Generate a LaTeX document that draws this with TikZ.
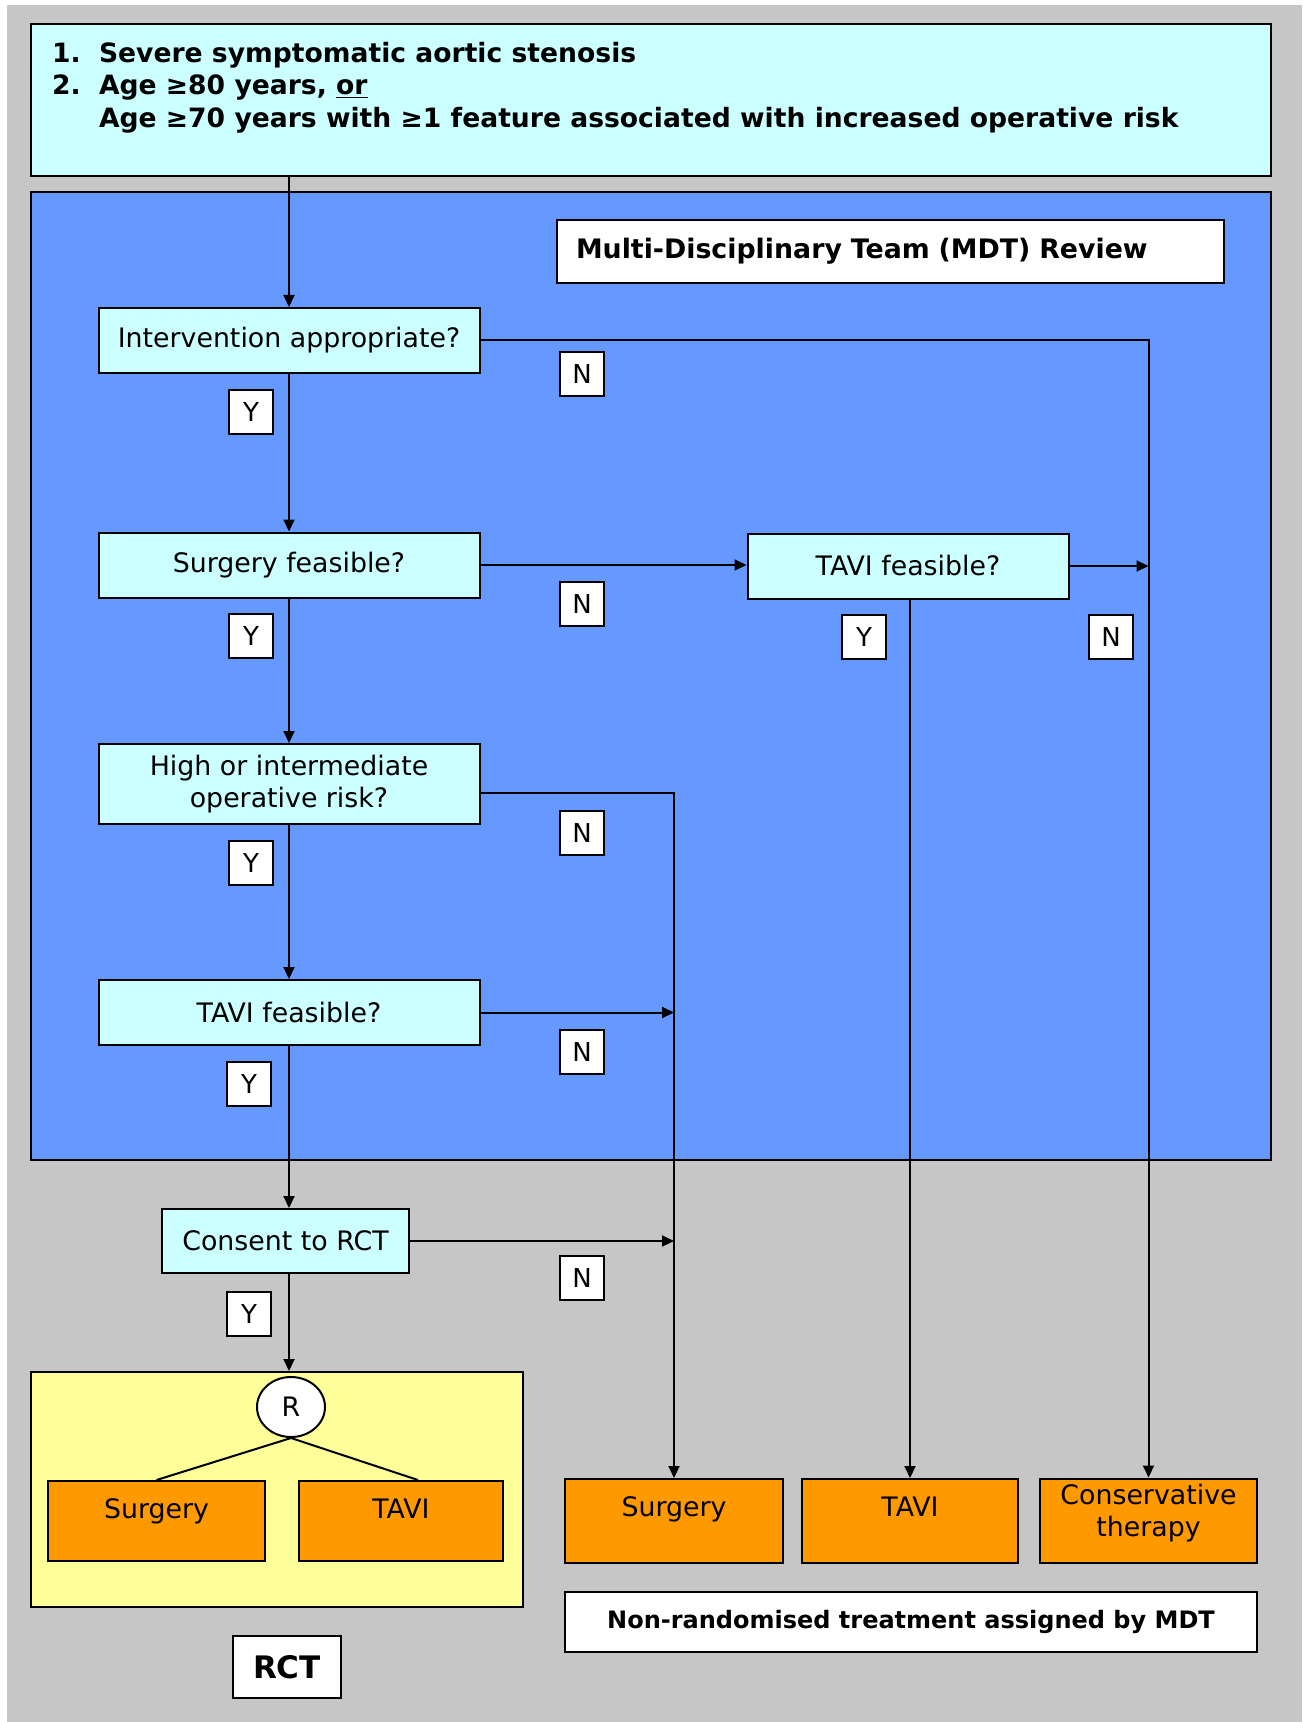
\documentclass[tikz,border=0pt]{standalone}
\usepackage{fontspec}
\setmainfont{DejaVu Sans}
\usetikzlibrary{arrows.meta,shapes.geometric}
\definecolor{bggray}{RGB}{198,198,198}
\definecolor{mdtblue}{RGB}{102,153,255}
\definecolor{qcyan}{RGB}{204,255,255}
\definecolor{rctyellow}{RGB}{255,255,153}
\definecolor{txorange}{RGB}{255,153,0}

\begin{document}
\begin{tikzpicture}[x=0.5pt,y=-0.5pt,line width=1pt,
    >={Triangle[length=6pt,width=5.5pt]},
    question/.style={draw,fill=qcyan,minimum width=190.5pt,minimum height=32.5pt,
      inner sep=2pt,align=center,font=\fontsize{13.4}{16}\selectfont},
    treat/.style={draw,fill=txorange,inner xsep=2pt,inner ysep=4pt,
      text height=14.5pt,text depth=19.5pt,align=center,font=\fontsize{13.4}{16}\selectfont},
    yn/.style={draw,fill=white,minimum size=22pt,inner sep=0pt,font=\fontsize{13}{14}\selectfont},
    title/.style={draw,fill=white,font=\bfseries\fontsize{13.4}{15}\selectfont}]
      \useasboundingbox (0,0) rectangle (1302,1722);
      \fill[white] (0,0) rectangle (1302,1722);
      \fill[bggray] (7,5) rectangle (1302,1722);

      % inclusion criteria
      \node[draw,fill=qcyan,minimum width=620pt,minimum height=76pt] (top) at (651,100) {};
      \node[anchor=north west,inner sep=0pt,align=left,font=\bfseries\fontsize{13.3}{16.2}\selectfont] (crit) at (51,41)
        {\makebox[23.5pt][l]{1.}Severe symptomatic aortic stenosis\\
         \makebox[23.5pt][l]{2.}Age ≥80 years, \underline{or}\\
         \hspace*{23.5pt}Age ≥70 years with ≥1 feature associated with increased operative risk};

      % MDT review
      \node[draw,fill=mdtblue,minimum width=620pt,minimum height=484pt] (mdt) at (651,676) {};
      \node[title,minimum height=31.5pt,inner xsep=9.5pt,text width=314.5pt,align=left] (mdtlbl) at (890.5,251.5)
        {Multi-Disciplinary Team (MDT) Review};
      \node[question] (intv) at (289,340.5) {Intervention appropriate?};
      \node[question] (surg) at (289,565) {Surgery feasible?};
      \node[question,minimum height=40pt] (risk) at (289,784) {High or intermediate\\operative risk?};
      \node[question] (tavil) at (289,1012.5) {TAVI feasible?};
      \node[question,minimum width=160.5pt] (tavir) at (908,566) {TAVI feasible?};
      \node[question,minimum width=123.5pt,minimum height=32pt] (consent) at (285.5,1241) {Consent to RCT};

      % randomised arm
      \node[draw,fill=rctyellow,minimum width=246pt,minimum height=117.5pt] (rct) at (277,1489.5) {};
      \node[draw,fill=white,ellipse,minimum width=34pt,minimum height=30pt,inner sep=0pt,
        font=\fontsize{13.4}{14}\selectfont] (rand) at (291,1407) {R};
      \node[treat,minimum width=108.5pt,text depth=17.5pt] (rsurg) at (156.5,1521) {Surgery};
      \node[treat,minimum width=102pt,text depth=17.5pt] (rtavi) at (401,1521) {TAVI};
      \node[draw,fill=white,minimum width=54pt,minimum height=31pt,
        font=\bfseries\fontsize{15.5}{18}\selectfont] (rctlbl) at (287,1667) {RCT};

      % non-randomised arm
      \node[treat,minimum width=109pt] (osurg) at (674,1521) {Surgery};
      \node[treat,minimum width=108pt] (otavi) at (910,1521) {TAVI};
      \node[treat,minimum width=108.5pt,text height=25pt,text depth=9pt] (ocons) at (1148.5,1520.5)
        {Conservative\\therapy};
      \node[title,minimum width=346pt,minimum height=30pt,font=\bfseries\fontsize{12}{15}\selectfont] (nonrand)
        at (911,1622) {Non-randomised treatment assigned by MDT};

      % Y / N labels
      \node[yn] (y1) at (251,412) {Y};
      \node[yn] (n1) at (582,374) {N};
      \node[yn] (y2) at (251,636) {Y};
      \node[yn] (n2) at (582,604) {N};
      \node[yn] (y3) at (864,637) {Y};
      \node[yn] (n3) at (1111,637) {N};
      \node[yn] (y4) at (251,863) {Y};
      \node[yn] (n4) at (582,833) {N};
      \node[yn] (y5) at (249,1084) {Y};
      \node[yn] (n5) at (582,1052) {N};
      \node[yn] (y6) at (249,1314) {Y};
      \node[yn] (n6) at (582,1278) {N};

      % connectors
      \draw[->] (intv.north |- top.south) -- (intv.north);
      \draw[->] (intv) -- (surg);
      \draw[->] (surg) -- (risk);
      \draw[->] (risk) -- (tavil);
      \draw[->] (tavil.south) -- (tavil.south |- consent.north);
      \draw[->] (tavil.south |- consent.south) -- (tavil.south |- rct.north);
      \draw[->] (intv.east) -- (intv.east -| ocons.north) -- (ocons.north);
      \draw[->] (surg.east) -- (surg.east -| tavir.west);
      \draw[->] (tavir.east) -- (tavir.east -| ocons.north);
      \draw[->] (tavir.south -| otavi.north) -- (otavi.north);
      \draw[->] ([yshift=-4.5pt]risk.east) -- ([yshift=-4.5pt]risk.east -| osurg.north) -- (osurg.north);
      \draw[->] (tavil.east) -- (tavil.east -| osurg.north);
      \draw[->] (consent.east) -- (consent.east -| osurg.north);
      \draw (rand.south) -- (rsurg.north);
      \draw (rand.south) -- ([xshift=8.5pt]rtavi.north);
    \end{tikzpicture}
\end{document}
